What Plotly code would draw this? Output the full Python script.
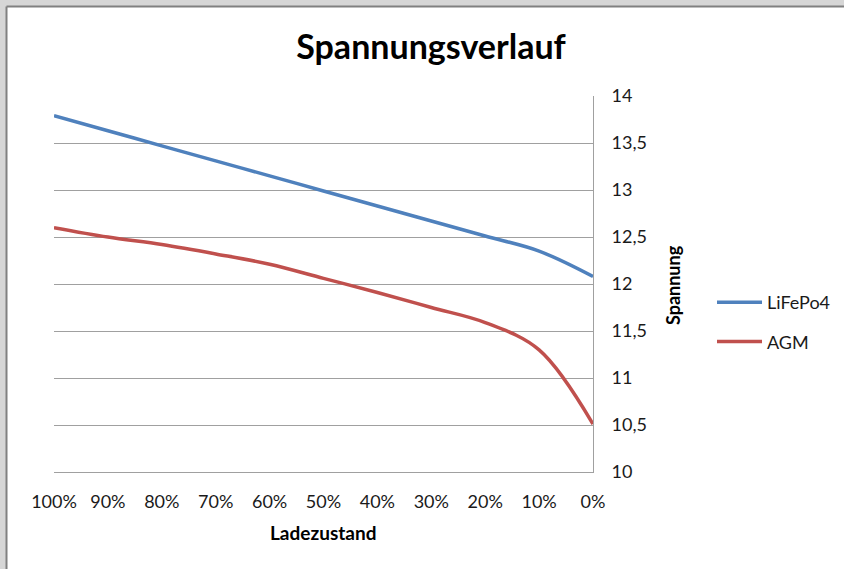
import plotly.graph_objects as go

# ---- data ----
categories = ["100%", "90%", "80%", "70%", "60%", "50%", "40%", "30%", "20%", "10%", "0%"]
lifepo4 = [13.79, 13.63, 13.47, 13.31, 13.15, 12.99, 12.83, 12.67, 12.51, 12.35, 12.08]
agm = [12.60, 12.50, 12.42, 12.32, 12.21, 12.06, 11.91, 11.75, 11.59, 11.30, 10.51]
y_ticks = [10, 10.5, 11, 11.5, 12, 12.5, 13, 13.5, 14]

W, H = 844, 569
L, R, T, B = 54, 251, 96, 97
PW, PH = W - L - R, H - T - B

def px_x(px):
    return (px - L) / PW

def px_y(py):
    return (H - B - py) / PH

FONT = "Lato, 'Open Sans', sans-serif"
GRID = "#a0a0a0"

fig = go.Figure()
fig.add_trace(go.Scatter(
    x=categories, y=lifepo4, name="LiFePo4", mode="lines",
    line=dict(color="#4F81BD", width=3.5, shape="spline", smoothing=1),
    legendgroup="a",
))
fig.add_trace(go.Scatter(
    x=categories, y=agm, name="AGM", mode="lines",
    line=dict(color="#C0504D", width=3.5, shape="spline", smoothing=1),
    legendgroup="b",
))

shapes = [
    # grey surround (screenshot frame)
    dict(type="rect", xref="paper", yref="paper", x0=px_x(0), x1=px_x(W), y0=px_y(0), y1=px_y(6.5),
         fillcolor="#d6d6d6", line=dict(width=0), layer="below"),
    dict(type="rect", xref="paper", yref="paper", x0=px_x(0), x1=px_x(6.5), y0=px_y(0), y1=px_y(H),
         fillcolor="#d6d6d6", line=dict(width=0), layer="below"),
    dict(type="line", xref="paper", yref="paper", x0=px_x(6.5), x1=px_x(W), y0=px_y(6.5), y1=px_y(6.5),
         line=dict(color="#808080", width=2)),
    dict(type="line", xref="paper", yref="paper", x0=px_x(6.5), x1=px_x(6.5), y0=px_y(6.5), y1=px_y(H),
         line=dict(color="#808080", width=2)),
]

annotations = [
    dict(text="<b>Ladezustand</b>", xref="paper", yref="paper", x=px_x(323), y=px_y(532),
         xanchor="center", yanchor="middle", showarrow=False,
         font=dict(family=FONT, size=19, color="#000000")),
    dict(text="<b>Spannung</b>", xref="paper", yref="paper", x=px_x(673), y=px_y(285),
         xanchor="center", yanchor="middle", showarrow=False, textangle=-90,
         font=dict(family=FONT, size=18, color="#000000")),
]

fig.update_layout(
    width=W, height=H,
    margin=dict(l=L, r=R, t=T, b=B, pad=0, autoexpand=False),
    paper_bgcolor="white", plot_bgcolor="white",
    separators=",.",
    font=dict(family=FONT, size=18, color="#1a1a1a"),
    title=dict(text="<b>Spannungsverlauf</b>", x=431 / W, xanchor="center",
               y=1 - 47 / H, yanchor="middle",
               font=dict(family=FONT, size=34, color="#000000")),
    xaxis=dict(
        type="category", range=[0, len(categories) - 1],
        showgrid=False, zeroline=False,
        showline=True, linecolor=GRID, linewidth=1,
        ticks="outside", ticklen=13, tickcolor="rgba(0,0,0,0)",
        tickfont=dict(family=FONT, size=18, color="#1a1a1a"),
    ),
    yaxis=dict(
        side="right", range=[10, 14], tickvals=y_ticks,
        showgrid=True, gridcolor=GRID, gridwidth=1, zeroline=False,
        showline=True, linecolor=GRID, linewidth=1,
        ticks="outside", ticklen=14, tickcolor="rgba(0,0,0,0)",
        tickfont=dict(family=FONT, size=18, color="#1a1a1a"),
    ),
    legend=dict(
        x=px_x(712), y=px_y(322), xanchor="left", yanchor="middle",
        traceorder="grouped", tracegroupgap=13,
        font=dict(family=FONT, size=18, color="#1a1a1a"),
        bgcolor="rgba(0,0,0,0)", itemwidth=45,
    ),
    shapes=shapes,
    annotations=annotations,
)

fig.write_html("out.html", config={"displayModeBar": False},
               post_script="document.body.style.margin='0';")
